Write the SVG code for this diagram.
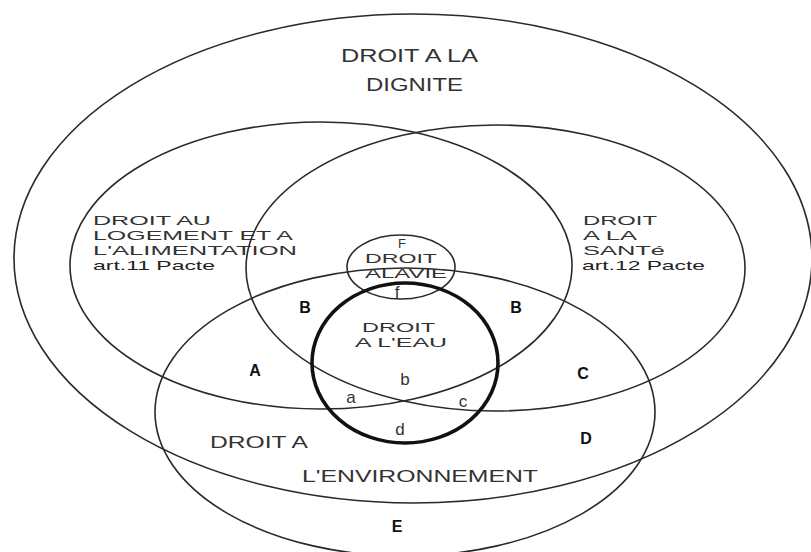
<svg xmlns="http://www.w3.org/2000/svg" width="811" height="552" viewBox="0 0 811 552">
<style>
.ring{fill:none;stroke:#2a2a2a;stroke-width:1.6}
.thick{fill:none;stroke:#111;stroke-width:3.6}
.t{font-family:"Liberation Sans",Arial,sans-serif;font-size:16px;fill:#333}
.st{font-size:13px}
.big{font-size:18px}
.sm{font-size:17px}
.b{font-family:"Liberation Sans",Arial,sans-serif;font-size:16px;font-weight:bold;fill:#111;text-anchor:middle}
.c{text-anchor:middle}
</style>
<rect width="811" height="552" fill="#fff"/>
<g id="dignite">
<ellipse class="ring" cx="413" cy="258.5" rx="399" ry="244.5"/>
<text class="t big" x="341" y="62" textLength="137" lengthAdjust="spacingAndGlyphs">DROIT A LA</text>
<text class="t big" x="366" y="91" textLength="97" lengthAdjust="spacingAndGlyphs">DIGNITE</text>
</g>
<g id="logement">
<ellipse class="ring" cx="321" cy="265.5" rx="251" ry="143.5"/>
<text class="t st" x="93" y="224.5" textLength="118" lengthAdjust="spacingAndGlyphs">DROIT AU</text>
<text class="t st" x="93" y="239.5" textLength="200" lengthAdjust="spacingAndGlyphs">LOGEMENT ET A</text>
<text class="t st" x="93" y="254.5" textLength="204" lengthAdjust="spacingAndGlyphs">L'ALIMENTATION</text>
<text class="t st" x="93" y="269.5" textLength="122" lengthAdjust="spacingAndGlyphs" style="fill:#222">art.11 Pacte</text>
</g>
<g id="sante">
<ellipse class="ring" cx="495.5" cy="268" rx="249.5" ry="143"/>
<text class="t st" x="583" y="225" textLength="74" lengthAdjust="spacingAndGlyphs">DROIT</text>
<text class="t st" x="583" y="240" textLength="54" lengthAdjust="spacingAndGlyphs">A LA</text>
<text class="t st" x="583" y="255" textLength="82" lengthAdjust="spacingAndGlyphs">SANTé</text>
<text class="t st" x="582" y="270" textLength="123" lengthAdjust="spacingAndGlyphs" style="fill:#222">art.12 Pacte</text>
</g>
<g id="environnement">
<ellipse class="ring" cx="405" cy="412" rx="250" ry="144"/>
<text class="t" x="210" y="448" textLength="98" lengthAdjust="spacingAndGlyphs">DROIT A</text>
<text class="t" x="302" y="482" textLength="236" lengthAdjust="spacingAndGlyphs">L'ENVIRONNEMENT</text>
</g>
<g id="vie">
<ellipse class="ring" cx="401" cy="267" rx="54" ry="32"/>
<text class="t st c" x="402" y="248">F</text>
<text class="t st" x="365" y="263" textLength="72" lengthAdjust="spacingAndGlyphs">DROIT</text>
<text class="t st" x="365" y="278" textLength="82" lengthAdjust="spacingAndGlyphs">ALAVIE</text>
</g>
<g id="eau">
<ellipse class="thick" cx="405" cy="363" rx="93" ry="80"/>
<text class="t st" x="362" y="331.5" textLength="73" lengthAdjust="spacingAndGlyphs">DROIT</text>
<text class="t st" x="355" y="346.5" textLength="92" lengthAdjust="spacingAndGlyphs">A L'EAU</text>
</g>
<g id="zones">
<text class="t sm c" x="397" y="298">f</text>
<text class="t sm c" x="405" y="385">b</text>
<text class="t sm c" x="351" y="403">a</text>
<text class="t sm c" x="463" y="407">c</text>
<text class="t sm c" x="400" y="435">d</text>
<text class="b" x="305" y="313">B</text>
<text class="b" x="516" y="313">B</text>
<text class="b" x="255" y="376">A</text>
<text class="b" x="583" y="379">C</text>
<text class="b" x="586" y="444">D</text>
<text class="b" x="397" y="532">E</text>
</g>
<g id="connectors"></g>
</svg>
